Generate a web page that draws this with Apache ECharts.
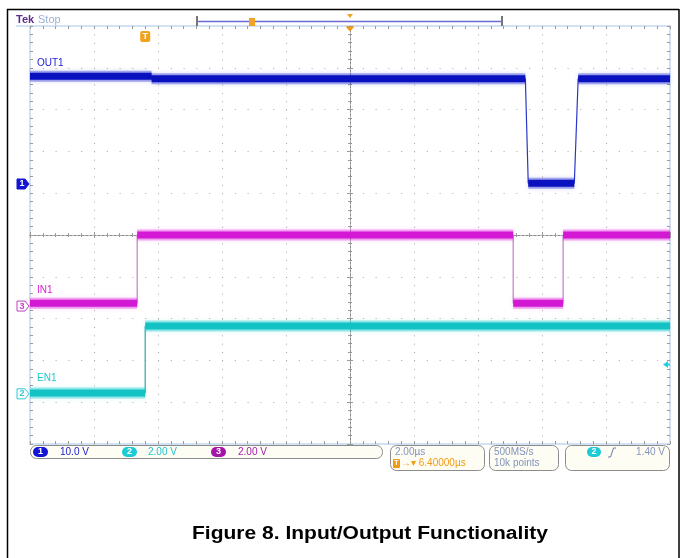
<!DOCTYPE html>
<html>
<head>
<meta charset="utf-8">
<script src="https://cdn.jsdelivr.net/npm/echarts@6/dist/echarts.min.js"></script>
<style>
html, body { margin: 0; padding: 0; background: #fff; }
#main { width: 681px; height: 558px; }
</style>
</head>
<body>
<div id="main"></div>
<script>
// scope settings
const usPerDiv = 2;
const trigPosUs = 6.4;          // centre of screen, relative to trigger
const voltsPerDiv = [10, 2, 2]; // CH1, CH2, CH3
const groundDiv = [1.22, -3.80, -1.70]; // ground marker, divisions from centre
const trigLevel = 1.40;         // on CH2

// traces (time in us after trigger, level in V)
const out1Time = [-3.6, 0.2, 0.2, 11.88, 11.97, 13.41, 13.53, 16.4];
const out1Volt = [25.8, 25.8, 25.2, 25.2, 0.2, 0.2, 25.2, 25.2];
const en1Time = [-3.6, 0, 0, 16.4];
const en1Volt = [0.04, 0.04, 3.24, 3.24];
const in1Time = [-3.6, -0.25, -0.25, 11.5, 11.5, 13.06, 13.06, 16.4];
const in1Volt = [0.14, 0.14, 3.4, 3.4, 0.14, 0.14, 3.4, 3.4];

const traceNames = ['OUT1', 'EN1', 'IN1'];
const scaleLabels = ['10.0 V', '2.00 V', '2.00 V'];

const chart = echarts.init(document.getElementById('main'));

function pairs(t, v) {
  return t.map((x, i) => [x, v[i]]);
}
// flat parts only, they get the thick noisy band
function flats(t, v) {
  const d = [];
  for (let i = 0; i < t.length - 1; i++) {
    if (v[i] === v[i + 1] && t[i + 1] > t[i]) {
      d.push([t[i], v[i]], [t[i + 1], v[i + 1]], [t[i + 1], '-']);
    }
  }
  return d;
}

const traces = [
  { t: out1Time, v: out1Volt, edge: '#2a36c8', band: 'rgba(40,52,214,0.4)', core: '#0a12bf' },
  { t: en1Time, v: en1Volt, edge: '#2aa8a8', band: 'rgba(20,205,205,0.4)', core: '#12c2c4' },
  { t: in1Time, v: in1Volt, edge: '#c47cc4', band: 'rgba(222,50,222,0.4)', core: '#d419d4' }
];

const series = [];
traces.forEach((tr, c) => {
  const base = { type: 'line', xAxisIndex: 4, yAxisIndex: 4 + c, symbol: 'none', silent: true, connectNulls: false };
  series.push(Object.assign({}, base, { data: pairs(tr.t, tr.v), z: 3, lineStyle: { width: 1.2, color: tr.edge } }));
  series.push(Object.assign({}, base, { data: flats(tr.t, tr.v), z: 4,
    lineStyle: { width: 11, color: tr.band, shadowBlur: 4, shadowColor: tr.band } }));
  series.push(Object.assign({}, base, { data: flats(tr.t, tr.v), z: 5, lineStyle: { width: 7, color: tr.core } }));
});

const edgeLine = { onZero: false, lineStyle: { color: '#c4d9ef', width: 1.5 } };
const tickGrey = { color: '#9a9a9a', width: 1 };
const centreLine = { onZero: true, onZeroAxisIndex: 0, lineStyle: { color: '#8a8a8a', width: 1, type: [2, 2] } };

function divAxis(extra) {
  return Object.assign({
    type: 'value', min: -5, max: 5, interval: 1,
    axisLabel: { show: false },
    splitLine: { show: false },
    axisTick: { inside: true, length: 3, lineStyle: tickGrey },
    minorTick: { show: true, splitNumber: 5, length: 3, lineStyle: tickGrey },
    minorSplitLine: { show: false }
  }, extra);
}

const xAxis = [
  divAxis({ position: 'bottom', axisLine: edgeLine,
    splitLine: { show: true, lineStyle: { color: '#a8a8a8', width: 1, type: [1, 7.36] } } }),
  divAxis({ position: 'top', axisLine: edgeLine }),
  divAxis({ position: 'bottom', axisLine: centreLine, axisTick: { inside: false, length: 3, lineStyle: tickGrey },
    minorTick: { show: true, splitNumber: 5, length: 2, lineStyle: tickGrey } }),
  divAxis({ position: 'bottom', axisLine: centreLine, axisTick: { inside: true, length: 3, lineStyle: tickGrey },
    minorTick: { show: true, splitNumber: 5, length: 2, lineStyle: tickGrey } }),
  { type: 'value', show: false, min: trigPosUs - 5 * usPerDiv, max: trigPosUs + 5 * usPerDiv }
];

const yAxis = [
  divAxis({ position: 'left', axisLine: edgeLine,
    splitLine: { show: true, lineStyle: { color: '#a8a8a8', width: 1, type: [1, 11.8] } } }),
  divAxis({ position: 'right', axisLine: edgeLine }),
  divAxis({ position: 'left', axisLine: centreLine, axisTick: { inside: false, length: 3, lineStyle: tickGrey },
    minorTick: { show: true, splitNumber: 5, length: 2, lineStyle: tickGrey } }),
  divAxis({ position: 'left', axisLine: centreLine, axisTick: { inside: true, length: 3, lineStyle: tickGrey },
    minorTick: { show: true, splitNumber: 5, length: 2, lineStyle: tickGrey } })
];
voltsPerDiv.forEach((s, c) => {
  yAxis.push({ type: 'value', show: false, min: (-5 - groundDiv[c]) * s, max: (5 - groundDiv[c]) * s });
});

chart.setOption({
  animation: false,
  backgroundColor: '#fff',
  grid: { left: 30, right: 11, top: 26, bottom: 114 },
  xAxis: xAxis,
  yAxis: yAxis,
  series: series
});

// overlay: scope decorations placed from the axes
const chColors = ['#1414d4', '#1ccbd6', '#a414a8'];
const labelColors = ['#1a1ad0', '#20c4d0', '#a020a8'];
const traceLabelColors = ['#1a1ad8', '#20c8d0', '#d81ad8'];
const markerStroke = ['#1414d4', '#30c8d4', '#c040c4'];
const g = [];

// outer frame
g.push({ type: 'line', shape: { x1: 7, y1: 9.5, x2: 679, y2: 9.5 }, style: { stroke: '#000', lineWidth: 1.5 } });
g.push({ type: 'line', shape: { x1: 7.5, y1: 9, x2: 7.5, y2: 558 }, style: { stroke: '#000', lineWidth: 1.5 } });
g.push({ type: 'line', shape: { x1: 679, y1: 9, x2: 679, y2: 558 }, style: { stroke: '#000', lineWidth: 1.5 } });

// header
g.push({ type: 'line', shape: { x1: 16, y1: 26, x2: 30, y2: 26 }, style: { stroke: '#c4d9ef', lineWidth: 1.5 } });
g.push({ type: 'text', x: 16, y: 20, style: { text: 'Tek', font: 'bold 11px "Liberation Sans", Arial', fill: '#5e2c8e', textVerticalAlign: 'middle' } });
g.push({ type: 'text', x: 38, y: 20, style: { text: 'Stop', font: '11px "Liberation Sans", Arial', fill: '#9cb0d2', textVerticalAlign: 'middle' } });
g.push({ type: 'line', shape: { x1: 197, y1: 21.5, x2: 502, y2: 21.5 }, style: { stroke: '#6a6ad8', lineWidth: 1.5 } });
g.push({ type: 'line', shape: { x1: 197, y1: 16, x2: 197, y2: 26 }, style: { stroke: '#777', lineWidth: 2 } });
g.push({ type: 'line', shape: { x1: 502, y1: 16, x2: 502, y2: 26 }, style: { stroke: '#777', lineWidth: 2 } });
g.push({ type: 'rect', shape: { x: 249, y: 18, width: 6, height: 8 }, style: { fill: '#f2a426' } });
g.push({ type: 'polygon', shape: { points: [[347, 14], [353, 14], [350, 18]] }, style: { fill: '#f2a426' } });

const xc = chart.convertToPixel({ xAxisIndex: 0 }, 0);
g.push({ type: 'polygon', shape: { points: [[xc - 4.5, 26.5], [xc + 4.5, 26.5], [xc, 31.5]] }, style: { fill: '#f39a12' } });
const xt = chart.convertToPixel({ xAxisIndex: 4 }, 0);
g.push({ type: 'rect', shape: { x: xt - 5, y: 31, width: 10, height: 11, r: 2 }, style: { fill: '#f3a21c' } });
g.push({ type: 'text', x: xt, y: 36.5, style: { text: 'T', font: 'bold 9px "Liberation Sans", Arial', fill: '#fff', textAlign: 'center', textVerticalAlign: 'middle' } });

// ground markers and trace names
const traceTop = [out1Volt[0], en1Volt[0], in1Volt[0]];
const labelGap = [13, 15, 13];
voltsPerDiv.forEach((s, c) => {
  const y = chart.convertToPixel({ yAxisIndex: 4 + c }, 0);
  const filled = c === 0;
  g.push({ type: 'polygon', shape: { points: [[17, y - 5], [25, y - 5], [29, y], [25, y + 5], [17, y + 5]] },
    style: { fill: filled ? markerStroke[c] : '#fff', stroke: markerStroke[c], lineWidth: 1 } });
  g.push({ type: 'text', x: 22, y: y, style: { text: String(c + 1), font: 'bold 9px "Liberation Sans", Arial',
    fill: filled ? '#fff' : markerStroke[c], textAlign: 'center', textVerticalAlign: 'middle' } });
  const yl = chart.convertToPixel({ yAxisIndex: 4 + c }, traceTop[c]) - labelGap[c];
  g.push({ type: 'text', x: 37, y: yl, style: { text: traceNames[c], font: '10px "Liberation Sans", Arial',
    fill: traceLabelColors[c], textVerticalAlign: 'middle' } });
});

// trigger level arrow on the right
const yTrig = chart.convertToPixel({ yAxisIndex: 5 }, trigLevel);
g.push({ type: 'polygon', shape: { points: [[663, yTrig], [668, yTrig - 3.5], [668, yTrig + 3.5]] }, style: { fill: '#22d0e0' } });
g.push({ type: 'line', shape: { x1: 666, y1: yTrig, x2: 670, y2: yTrig }, style: { stroke: '#22d0e0', lineWidth: 2 } });

// status bar
const boxFill = '#fdfdf4', boxStroke = '#8c8c8c';
const infoColor = '#8494bc';
const font10 = '10px "Liberation Sans", Arial';
g.push({ type: 'rect', shape: { x: 30.5, y: 445.5, width: 352, height: 13, r: 6 }, style: { fill: boxFill, stroke: boxStroke, lineWidth: 1 } });
const badgeX = [33, 122, 211];
const valueX = [60, 148, 238];
voltsPerDiv.forEach((s, c) => {
  g.push({ type: 'rect', shape: { x: badgeX[c], y: 447, width: 15, height: 10, r: 5 }, style: { fill: chColors[c] } });
  g.push({ type: 'text', x: badgeX[c] + 7.5, y: 452, style: { text: String(c + 1), font: 'bold 9px "Liberation Sans", Arial', fill: '#fff', textAlign: 'center', textVerticalAlign: 'middle' } });
  g.push({ type: 'text', x: valueX[c], y: 452, style: { text: scaleLabels[c], font: font10, fill: labelColors[c], textVerticalAlign: 'middle' } });
});

g.push({ type: 'rect', shape: { x: 390.5, y: 445.5, width: 94, height: 25, r: 6 }, style: { fill: boxFill, stroke: boxStroke, lineWidth: 1 } });
g.push({ type: 'text', x: 395, y: 452, style: { text: usPerDiv.toFixed(2) + 'µs', font: font10, fill: infoColor, textVerticalAlign: 'middle' } });
g.push({ type: 'rect', shape: { x: 393, y: 459, width: 7, height: 9, r: 1 }, style: { fill: '#f29a12' } });
g.push({ type: 'text', x: 396.5, y: 463.5, style: { text: 'T', font: 'bold 7px "Liberation Sans", Arial', fill: '#fff', textAlign: 'center', textVerticalAlign: 'middle' } });
g.push({ type: 'text', x: 401, y: 463.5, style: { text: '→▾ ' + trigPosUs.toFixed(5) + 'µs', font: font10, fill: '#f29a12', textVerticalAlign: 'middle' } });

g.push({ type: 'rect', shape: { x: 489.5, y: 445.5, width: 69, height: 25, r: 6 }, style: { fill: boxFill, stroke: boxStroke, lineWidth: 1 } });
g.push({ type: 'text', x: 494, y: 452, style: { text: '500MS/s', font: font10, fill: infoColor, textVerticalAlign: 'middle' } });
g.push({ type: 'text', x: 494, y: 463.5, style: { text: '10k points', font: font10, fill: infoColor, textVerticalAlign: 'middle' } });

g.push({ type: 'rect', shape: { x: 565.5, y: 445.5, width: 104, height: 25, r: 6 }, style: { fill: boxFill, stroke: boxStroke, lineWidth: 1 } });
g.push({ type: 'rect', shape: { x: 587, y: 447, width: 14, height: 10, r: 5 }, style: { fill: chColors[1] } });
g.push({ type: 'text', x: 594, y: 452, style: { text: '2', font: 'bold 9px "Liberation Sans", Arial', fill: '#fff', textAlign: 'center', textVerticalAlign: 'middle' } });
g.push({ type: 'polyline', shape: { points: [[608, 457], [610.5, 457], [613.5, 448], [616, 448]] }, style: { stroke: '#6c7ca0', lineWidth: 1, fill: null } });
g.push({ type: 'text', x: 665, y: 452, style: { text: trigLevel.toFixed(2) + ' V', font: font10, fill: infoColor, textAlign: 'right', textVerticalAlign: 'middle' } });

// caption
g.push({ type: 'text', x: 192, y: 534, scaleX: 1.167, style: { text: 'Figure 8. Input/Output Functionality',
  font: 'bold 18px "Liberation Sans", Arial', fill: '#000', textVerticalAlign: 'middle' } });

g.forEach(el => { el.z = 100; });
chart.setOption({ graphic: { elements: g } });
</script>
</body>
</html>
